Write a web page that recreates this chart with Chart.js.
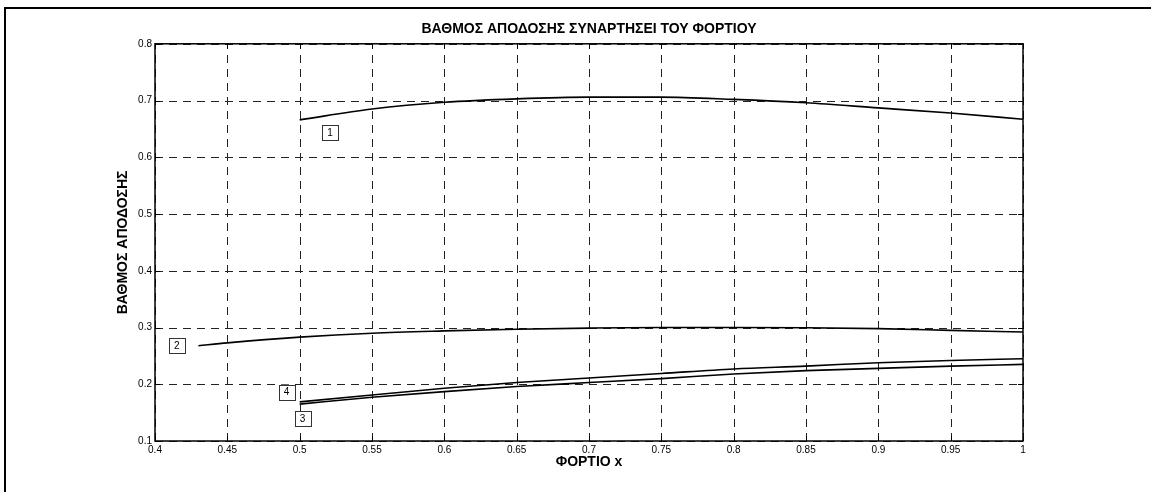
<!DOCTYPE html>
<html>
<head>
<meta charset="utf-8">
<script src="https://cdn.jsdelivr.net/npm/chart.js@4"></script>
<style>
  body { margin: 0; background: #fff; }
  #chart { display: block; }
</style>
</head>
<body>
<canvas id="chart" width="1151" height="492"></canvas>
<script>
// δεδομένα (διαβασμένα από το διάγραμμα)
var xCommon = [0.5, 0.55, 0.6, 0.65, 0.7, 0.75, 0.8, 0.85, 0.9, 0.95, 1.0];
var xCurve2 = [0.43, 0.45, 0.5, 0.55, 0.6, 0.65, 0.7, 0.75, 0.8, 0.85, 0.9, 0.95, 1.0];

var curve1 = [0.666, 0.685, 0.697, 0.703, 0.706, 0.706, 0.702, 0.696, 0.687, 0.678, 0.667];
var curve2 = [0.268, 0.273, 0.283, 0.290, 0.294, 0.297, 0.299, 0.300, 0.300, 0.2995, 0.298, 0.295, 0.292];
var curve3 = [0.165, 0.177, 0.187, 0.196, 0.203, 0.210, 0.218, 0.224, 0.228, 0.232, 0.235];
var curve4 = [0.169, 0.181, 0.193, 0.203, 0.211, 0.219, 0.227, 0.232, 0.238, 0.242, 0.245];

// ετικέτες καμπυλών (θέσεις σε τιμές αξόνων)
var labelTexts = ["1", "2", "3", "4"];
var labelX = [0.521, 0.415, 0.502, 0.491];
var labelY = [0.644, 0.268, 0.139, 0.186];

var xTicks = [0.4, 0.45, 0.5, 0.55, 0.6, 0.65, 0.7, 0.75, 0.8, 0.85, 0.9, 0.95, 1.0];
var yTicks = [0.1, 0.2, 0.3, 0.4, 0.5, 0.6, 0.7, 0.8];

var FONT = "'Liberation Sans', Arial, Helvetica, sans-serif";

function pts(xs, ys) {
  return xs.map(function (x, i) { return { x: x, y: ys[i] }; });
}

function fmt(v) {
  return String(Number(v.toFixed(2)));
}

function lineSet(label, data) {
  return {
    label: label,
    data: data,
    borderColor: "#000",
    borderWidth: 1.6,
    pointRadius: 0,
    showLine: true,
    fill: false,
    cubicInterpolationMode: "monotone"
  };
}

// πλαίσιο, διακεκομμένο πλέγμα, υποδιαιρέσεις και κουτάκια ετικετών
var framePlugin = {
  id: "frame",
  beforeDraw: function (chart) {
    var ctx = chart.ctx;
    ctx.save();
    ctx.fillStyle = "#fff";
    ctx.fillRect(0, 0, chart.width, chart.height);
    ctx.strokeStyle = "#000";
    ctx.lineWidth = 2;
    ctx.strokeRect(5, 8, chart.width + 20, chart.height + 20);
    ctx.restore();
  },
  beforeDatasetsDraw: function (chart) {
    var ctx = chart.ctx;
    var a = chart.chartArea;
    var xs = chart.scales.x, ys = chart.scales.y;
    ctx.save();
    ctx.strokeStyle = "#222";
    ctx.lineWidth = 1;
    ctx.setLineDash([8, 6]);
    xTicks.forEach(function (t) {
      var px = Math.round(xs.getPixelForValue(t)) + 0.5;
      ctx.beginPath();
      ctx.moveTo(px, a.bottom); ctx.lineTo(px, a.top);
      ctx.stroke();
    });
    yTicks.forEach(function (t) {
      var py = Math.round(ys.getPixelForValue(t)) + 0.5;
      ctx.beginPath();
      ctx.moveTo(a.left, py); ctx.lineTo(a.right, py);
      ctx.stroke();
    });
    ctx.restore();
  },
  afterDatasetsDraw: function (chart) {
    var ctx = chart.ctx;
    var a = chart.chartArea;
    var xs = chart.scales.x, ys = chart.scales.y;
    ctx.save();
    ctx.strokeStyle = "#000";
    ctx.lineWidth = 1;
    // υποδιαιρέσεις προς τα μέσα
    ctx.beginPath();
    xTicks.forEach(function (t) {
      var px = Math.round(xs.getPixelForValue(t)) + 0.5;
      ctx.moveTo(px, a.bottom); ctx.lineTo(px, a.bottom - 5);
      ctx.moveTo(px, a.top); ctx.lineTo(px, a.top + 5);
    });
    yTicks.forEach(function (t) {
      var py = Math.round(ys.getPixelForValue(t)) + 0.5;
      ctx.moveTo(a.left, py); ctx.lineTo(a.left + 5, py);
      ctx.moveTo(a.right, py); ctx.lineTo(a.right - 5, py);
    });
    ctx.stroke();
    ctx.lineWidth = 1.5;
    ctx.strokeRect(a.left, a.top, a.right - a.left, a.bottom - a.top);

    // κουτάκια 1-4
    ctx.font = "10px " + FONT;
    ctx.textAlign = "center";
    ctx.textBaseline = "middle";
    labelTexts.forEach(function (txt, i) {
      var cx = xs.getPixelForValue(labelX[i]);
      var cy = ys.getPixelForValue(labelY[i]);
      ctx.fillStyle = "#fff";
      ctx.fillRect(cx - 8, cy - 7.5, 16, 15);
      ctx.strokeStyle = "#333";
      ctx.lineWidth = 1;
      ctx.strokeRect(Math.round(cx - 8) + 0.5, Math.round(cy - 7.5) + 0.5, 16, 15);
      ctx.fillStyle = "#000";
      ctx.fillText(txt, cx, cy + 0.5);
    });
    ctx.restore();
  }
};

new Chart(document.getElementById("chart"), {
  type: "scatter",
  data: {
    datasets: [
      lineSet("1", pts(xCommon, curve1)),
      lineSet("2", pts(xCurve2, curve2)),
      lineSet("3", pts(xCommon, curve3)),
      lineSet("4", pts(xCommon, curve4))
    ]
  },
  options: {
    responsive: false,
    devicePixelRatio: 1,
    animation: false,
    layout: { padding: { left: 0, right: 128, top: 0, bottom: 0 } },
    plugins: {
      legend: { display: false },
      tooltip: { enabled: false },
      title: {
        display: true,
        fullSize: false,
        text: "ΒΑΘΜΟΣ ΑΠΟΔΟΣΗΣ ΣΥΝΑΡΤΗΣΕΙ ΤΟΥ ΦΟΡΤΙΟΥ",
        color: "#000",
        font: { family: FONT, size: 14, weight: "bold" },
        padding: { top: 21, bottom: 6 }
      }
    },
    scales: {
      x: {
        type: "linear",
        min: 0.4,
        max: 1,
        afterBuildTicks: function (scale) {
          scale.ticks = xTicks.map(function (v) { return { value: v }; });
        },
        afterFit: function (scale) { scale.height = 51; },
        ticks: {
          padding: 3,
          color: "#000",
          font: { family: FONT, size: 10 },
          maxRotation: 0,
          autoSkip: false,
          callback: function (v) { return fmt(v); }
        },
        grid: { display: false, drawTicks: false },
        border: { display: false },
        title: {
          display: true,
          text: "ΦΟΡΤΙΟ x",
          color: "#000",
          font: { family: FONT, size: 14, weight: "bold" },
          padding: { top: 0, bottom: 21 }
        }
      },
      y: {
        type: "linear",
        min: 0.1,
        max: 0.8,
        afterBuildTicks: function (scale) {
          scale.ticks = yTicks.map(function (v) { return { value: v }; });
        },
        afterFit: function (scale) { scale.width = 155; },
        ticks: {
          padding: 3,
          color: "#000",
          font: { family: FONT, size: 10 },
          callback: function (v) { return fmt(v); }
        },
        grid: { display: false, drawTicks: false },
        border: { display: false },
        title: {
          display: true,
          text: "ΒΑΘΜΟΣ ΑΠΟΔΟΣΗΣ",
          color: "#000",
          font: { family: FONT, size: 14, weight: "bold" },
          padding: { top: 115, bottom: 0 }
        }
      }
    }
  },
  plugins: [framePlugin]
});
</script>
</body>
</html>
